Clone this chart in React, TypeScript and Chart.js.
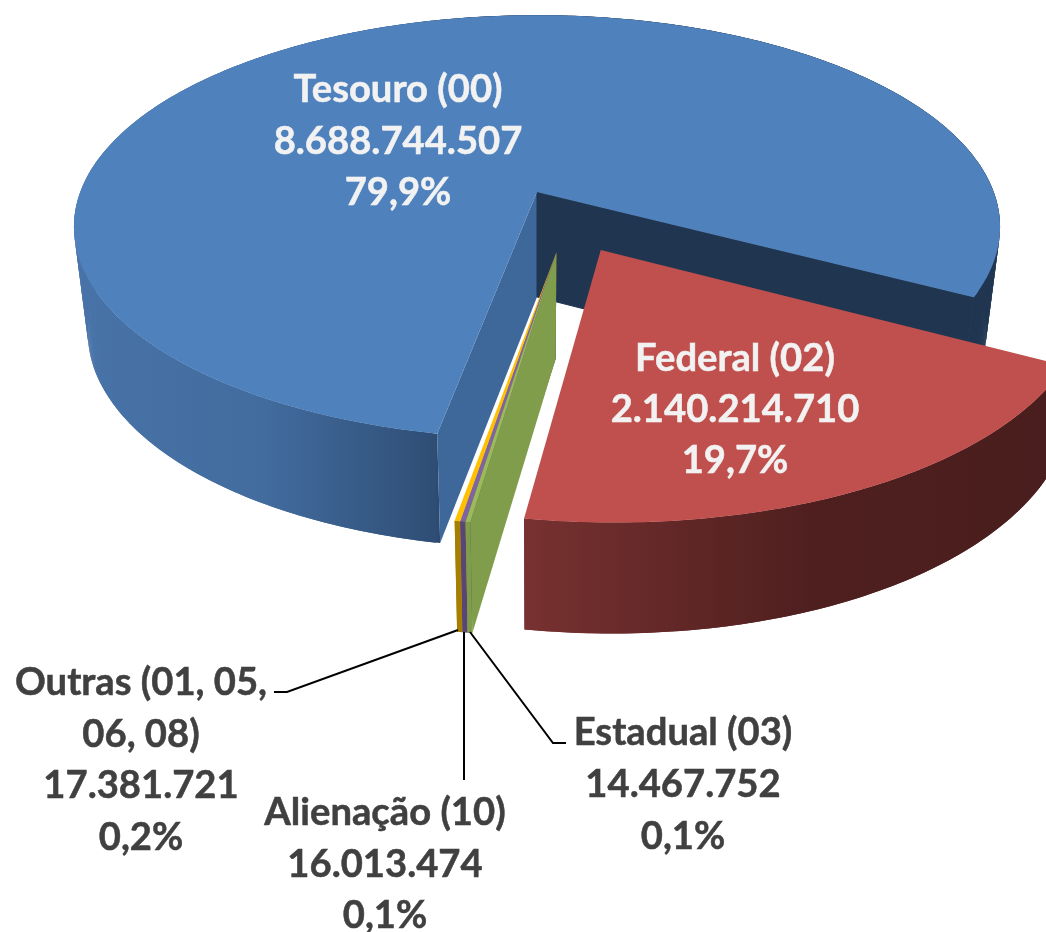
import React, { useEffect, useRef } from "react";
import { Chart, registerables } from "chart.js";

Chart.register(...registerables);

const categories = ["Tesouro (00)", "Federal (02)", "Estadual (03)", "Alienação (10)", "Outras (01, 05, 06, 08)"];
const values = [8688744507, 2140214710, 14467752, 16013474, 17381721];
const valueLabels = ["8.688.744.507", "2.140.214.710", "14.467.752", "16.013.474", "17.381.721"];
const percentLabels = ["79,9%", "19,7%", "0,1%", "0,1%", "0,2%"];

// Slice appearance, index-aligned with categories
const topColors = ["#4F81BD", "#C0504D", "#9BBB59", "#8064A2", "#FFC000"];
const sideWallColors = ["#3E6899", "#000000", "#7F9D4A", "#5A4675", "#A67F00"];
const endWallColors = ["#1F3550", "#000000", "#000000", "#000000", "#000000"];
const explodeDistance = [0, 0.3, 0.283, 0.283, 0.283];
const explodeDirection = [0, 63.6, 81.8, 81.8, 81.8];
const paintOrder = [0, 4, 3, 2, 1];

// Text layout
const labelLines = [
  ["Tesouro (00)", valueLabels[0], percentLabels[0]],
  ["Federal (02)", valueLabels[1], percentLabels[1]],
  ["Estadual (03)", valueLabels[2], percentLabels[2]],
  ["Alienação (10)", valueLabels[3], percentLabels[3]],
  ["Outras (01, 05,", "06, 08)", valueLabels[4], percentLabels[4]],
];
const labelX = [398, 735, 683, 385, 141];
const labelY = [102, 371, 745, 825, 695];
const labelStep = [51.5, 51, 52, 51.5, 51.5];
const labelColor = ["#F2F2F2", "#F2F2F2", "#404040", "#404040", "#404040"];

const CX = 537, CY = 192, RX = 456.7, RY = 206, PERSP = 0.165;
const BASE_SCALE = 0.97, DEPTH = 105, DEPTH_GROW = 0.018, VIEWER = 6;

type P = { x: number; y: number };
const project = (u: number, v: number): P => {
  const k = 1 / (1 - PERSP * v);
  return { x: CX + RX * u * k, y: CY + RY * v * k };
};
const lower = (p: P): P => ({
  x: CX + (p.x - CX) * BASE_SCALE,
  y: p.y + DEPTH + DEPTH_GROW * (p.y - CY),
});

function poly(ctx: CanvasRenderingContext2D, pts: P[], fill: string | CanvasGradient, edge = false) {
  ctx.beginPath();
  pts.forEach((p, i) => (i ? ctx.lineTo(p.x, p.y) : ctx.moveTo(p.x, p.y)));
  ctx.closePath();
  ctx.fillStyle = fill;
  ctx.fill();
  if (edge) {
    ctx.strokeStyle = fill;
    ctx.lineWidth = 1;
    ctx.stroke();
  }
}

function wallGradient(ctx: CanvasRenderingContext2D, i: number): string | CanvasGradient {
  if (i === 0) {
    const g = ctx.createLinearGradient(80, 0, 1000, 0);
    g.addColorStop(0, "#4873A8");
    g.addColorStop(0.2, "#426C9E");
    g.addColorStop(0.385, "#2F4E76");
    g.addColorStop(0.42, "#1F3550");
    g.addColorStop(1, "#1F3550");
    return g;
  }
  if (i === 1) {
    const g = ctx.createLinearGradient(523, 0, 1046, 0);
    g.addColorStop(0, "#773130");
    g.addColorStop(0.55, "#4F1F1F");
    g.addColorStop(1, "#4A1E1E");
    return g;
  }
  return sideWallColors[i];
}

const pie3d = {
  id: "pie3d",
  beforeDatasetsDraw(chart: any) {
    const ctx: CanvasRenderingContext2D = chart.ctx;
    const arcs = chart.getDatasetMeta(0).data;
    ctx.save();
    for (const i of paintOrder) {
      const arc = arcs[i];
      const dir = (explodeDirection[i] * Math.PI) / 180;
      const ou = explodeDistance[i] * Math.cos(dir);
      const ov = explodeDistance[i] * Math.sin(dir);
      const rim: P[] = [];
      const steps = Math.max(2, Math.ceil((arc.endAngle - arc.startAngle) / 0.008));
      for (let s = 0; s <= steps; s++) {
        const a = arc.startAngle + ((arc.endAngle - arc.startAngle) * s) / steps;
        rim.push(project(ou + Math.cos(a), ov + Math.sin(a)));
      }
      const apex = project(ou, ov);

      // outer wall: overlapping quads so the silhouette stays tangent to both rims
      const fill = wallGradient(ctx, i);
      for (let s = 0; s < rim.length - 1; s++) {
        const a = rim[s], b = rim[Math.min(s + 2, rim.length - 1)];
        poly(ctx, [a, b, lower(b), lower(a)], fill);
      }

      // cut walls, only those that face the viewer
      const sa = arc.startAngle, ea = arc.endAngle;
      const startFaces = Math.sin(sa) * (0 - ou) - Math.cos(sa) * (VIEWER - ov) > 0;
      const endFaces = -Math.sin(ea) * (0 - ou) + Math.cos(ea) * (VIEWER - ov) > 0;
      if (startFaces) {
        const r = rim[0];
        poly(ctx, [apex, r, lower(r), lower(apex)], sideWallColors[i]);
      }
      if (endFaces) {
        const r = rim[rim.length - 1];
        poly(ctx, [apex, r, lower(r), lower(apex)], endWallColors[i], true);
      }

      // top face
      poly(ctx, [apex, ...rim], topColors[i]);
    }

    // leader lines
    ctx.strokeStyle = "#000000";
    ctx.lineWidth = 2;
    const leaders: P[][] = [
      [{ x: 470, y: 632 }, { x: 553, y: 743 }, { x: 566, y: 743 }],
      [{ x: 464, y: 632 }, { x: 464, y: 780 }],
      [{ x: 458, y: 630 }, { x: 287, y: 692 }, { x: 274, y: 692 }],
    ];
    for (const line of leaders) {
      ctx.beginPath();
      line.forEach((p, j) => (j ? ctx.lineTo(p.x, p.y) : ctx.moveTo(p.x, p.y)));
      ctx.stroke();
    }

    // data labels
    ctx.font = "bold 38.2px Lato";
    ctx.textAlign = "center";
    ctx.textBaseline = "alphabetic";
    ctx.lineWidth = 0.5;
    labelLines.forEach((lines, i) => {
      ctx.fillStyle = labelColor[i];
      ctx.strokeStyle = labelColor[i];
      lines.forEach((t, j) => {
        ctx.fillText(t, labelX[i], labelY[i] + j * labelStep[i]);
        ctx.strokeText(t, labelX[i], labelY[i] + j * labelStep[i]);
      });
    });
    ctx.restore();
    return false;
  },
};

export default function App() {
  const ref = useRef<HTMLCanvasElement>(null);
  useEffect(() => {
    document.body.style.margin = "0";
    const chart = new Chart(ref.current!, {
      type: "pie",
      data: {
        labels: categories,
        datasets: [{ data: values, backgroundColor: topColors, borderWidth: 0 }],
      },
      options: {
        animation: false,
        responsive: false,
        rotation: 190.55,
        plugins: { legend: { display: false }, tooltip: { enabled: false } },
      },
      plugins: [pie3d],
    } as any);
    return () => chart.destroy();
  }, []);
  return <canvas ref={ref} width={1046} height={932} style={{ display: "block" }} />;
}
